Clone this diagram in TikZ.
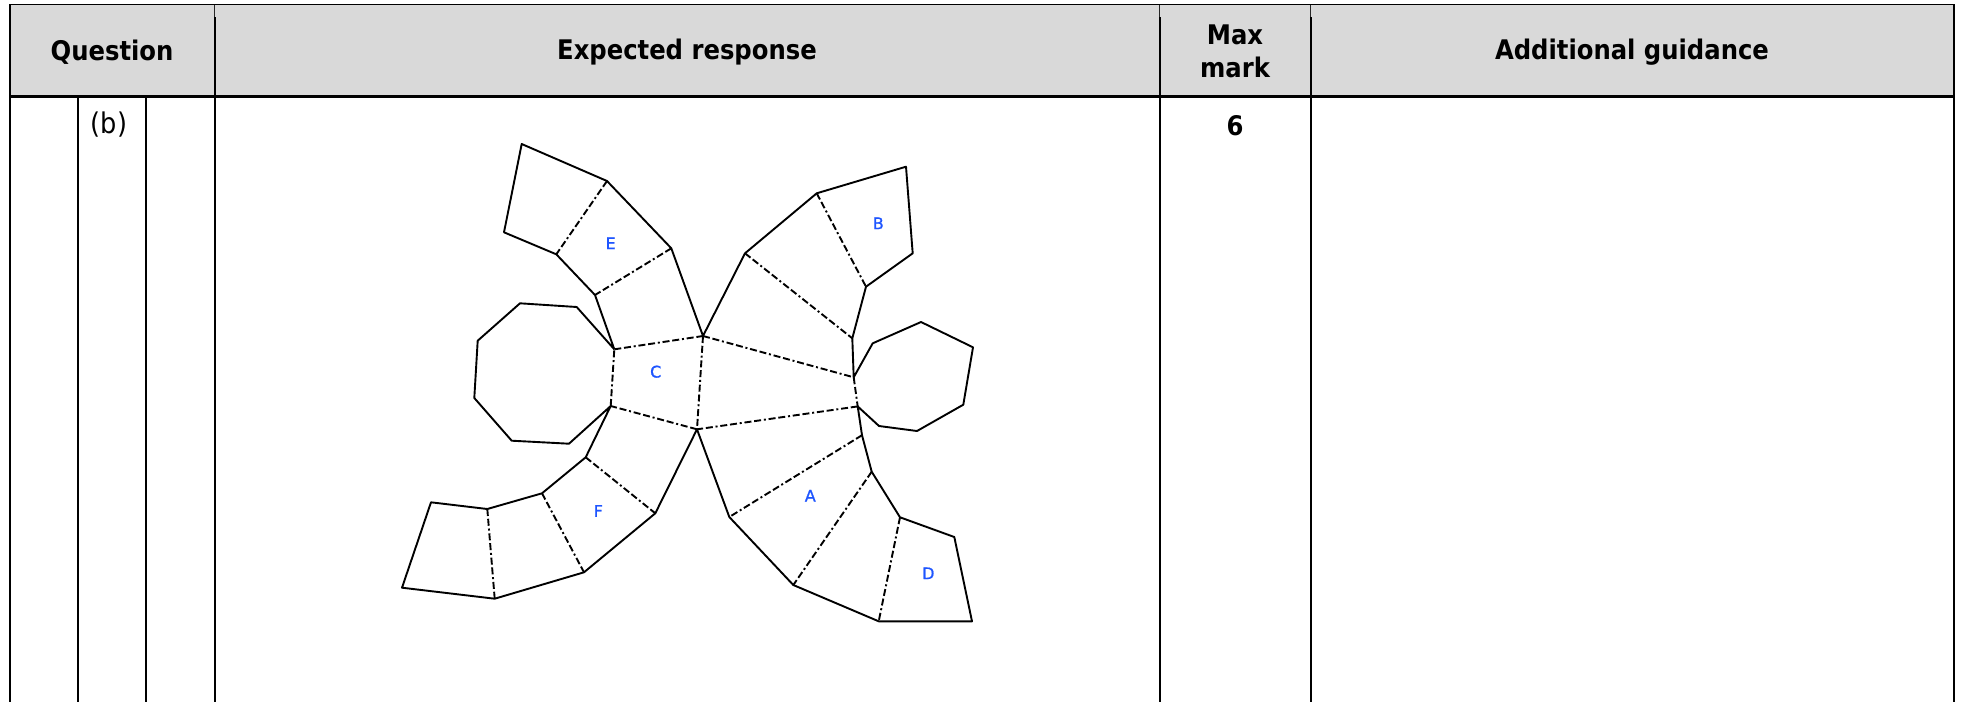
\documentclass[tikz,border=0pt]{standalone}
\usepackage{fontspec}
\setmainfont{DejaVu Sans Condensed}[BoldFont={DejaVu Sans Condensed Bold}]
\newfontfamily\netfont{DejaVu Sans}[FakeBold=1]
\definecolor{headgrey}{RGB}{217,217,217}
\definecolor{netblue}{RGB}{30,85,255}
\tikzset{
  x=1pt,y=-1pt,
  rule/.style={line width=2.4pt,black},
  thinrule/.style={line width=1pt,black!85},
  head/.style={font=\bfseries\fontsize{27}{33}\selectfont,align=center,text=black,inner sep=0pt},
  cell/.style={font=\fontsize{28.5}{31}\selectfont,text=black,inner sep=0pt},
  net/.style={line width=1.9pt,line join=round,black},
  fold/.style={line width=1.9pt,black,dash pattern=on 7pt off 2.8pt on 7pt off 2.8pt on 2pt off 2.8pt},
  lab/.style={font=\netfont\fontsize{16}{18}\selectfont,text=netblue,inner sep=0pt},
}
\begin{document}
\begin{tikzpicture}
\useasboundingbox (0,0) rectangle (1963,702);
\fill[white] (0,0) rectangle (1963,702);
\fill[headgrey] (10,5) rectangle (1954,96.5);
% table rules
\draw[line width=1.3pt] (9,4.8) -- (1955.2,4.8);
\draw[rule] (9,96.5) -- (1955.2,96.5);
\draw[rule] (10,4.2) -- (10,702);
\draw[rule] (78,96.5) -- (78,702);
\draw[rule] (146,96.5) -- (146,702);
\draw[rule] (215,17) -- (215,702);
\draw[rule] (1160,17) -- (1160,702);
\draw[rule] (1311,17) -- (1311,702);
\draw[rule] (1954,4.2) -- (1954,702);
\draw[thinrule] (214.6,5) -- (214.6,17);
\draw[thinrule] (1159.6,5) -- (1159.6,17);
\draw[thinrule] (1310.6,5) -- (1310.6,17);
% headers
\node[head] (hq) at (112,52) {Question};
\node[head] (he) at (687,52) {Expected response};
\node[head] (hm) at (1235,51.5) {Max\\mark};
\node[head] (hg) at (1632,52) {Additional guidance};
\node[cell] (qb) at (109,125) {(b)};
\node[head] (six) at (1235,126) {6};
% net vertices
\foreach \n/\x/\y in {
 e1/521.7/144, e2/607/181, e3/671.3/248.3, c2/703/336,
 e4/504/232.3, e5/556.3/254.3, e6/595/295, c1/614.3/349.3,
 c3/697/429.3, c4/610.7/406,
 o1/576.7/307, o2/520/303.3, o3/477.7/340.7, o4/474.3/398, o5/511.7/440.7, o6/569/443.7,
 b1/745/253.3, b2/816.7/193.3, b3/906/166.7, b4/912.7/253.3, b5/866/286.7, b6/852.3/338.3,
 m1/853.7/377.3, m2/857.7/406.4, a0/862/435.2,
 h1/872.7/343.3, h2/921/322, h3/973/347.3, h4/963.3/404.7, h5/917/431, h6/879/426,
 f1/585.7/457.3, f2/542/493.3, f3/487.3/509, f4/431/502.3, f5/402/587.7, f6/494.7/598.7, f7/584/572.3, f8/655.3/513.3,
 a1/729.3/517, a2/793.3/585, d1/878.7/621.3, d2/972/621.3, d3/954.3/537, d4/900/517.3, a3/871.7/471.7}
 {\coordinate (\n) at (\x,\y);}
% solid outline
\draw[net] (c1) -- (e6) -- (e5) -- (e4) -- (e1) -- (e2) -- (e3) -- (c2) -- (b1) -- (b2) -- (b3) -- (b4) -- (b5) -- (b6) -- (m1)
  -- (h1) -- (h2) -- (h3) -- (h4) -- (h5) -- (h6) -- (m2) -- (a0) -- (a3) -- (d4) -- (d3) -- (d2) -- (d1) -- (a2) -- (a1) -- (c3)
  -- (f8) -- (f7) -- (f6) -- (f5) -- (f4) -- (f3) -- (f2) -- (f1) -- (c4) -- (o6) -- (o5) -- (o4) -- (o3) -- (o2) -- (o1) -- (c1);
% fold lines
\foreach \a/\b in {e2/e5, e3/e6, c1/c2, c2/c3, c3/c4, c4/c1, c2/m1, m1/m2, m2/c3, b1/b6, b2/b5, a0/a1, a3/a2, d4/d1, f1/f8, f2/f7, f3/f6}
 {\draw[fold] (\a) -- (\b);}
% labels
\node[lab] (le) at (610.7,243.3) {E};
\node[lab] (lc) at (655.7,371.7) {C};
\node[lab] (lb) at (878.3,223.3) {B};
\node[lab] (lf) at (598.3,511) {F};
\node[lab] (la) at (810.3,495.7) {A};
\node[lab] (ld) at (928.3,573.3) {D};
\end{tikzpicture}
\end{document}
